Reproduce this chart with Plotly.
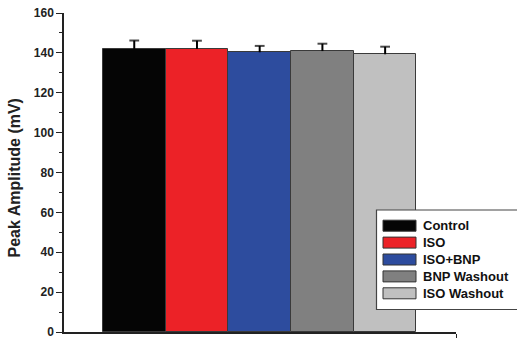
import plotly.graph_objects as go

categories = ["Control", "ISO", "ISO+BNP", "BNP Washout", "ISO Washout"]
values = [142.0, 142.0, 140.3, 140.9, 139.3]
errors = [4.2, 4.1, 3.2, 3.7, 3.8]
colors = ["#050505", "#ec2227", "#2d4c9e", "#808080", "#c0c0c0"]
y_ticks = [0, 20, 40, 60, 80, 100, 120, 140, 160]
y_title = "Peak Amplitude (mV)"

FONT = "Liberation Sans, Arial, sans-serif"
W, H = 517, 338
ML, MR, MT, MB = 64, 61, 13, 6
PW, PH = W - ML - MR, H - MT - MB


def px(x):
    return (x - ML) / PW


def py(y):
    return (H - MB - y) / PH


fig = go.Figure()
for name, v, e, c in zip(categories, values, errors, colors):
    fig.add_trace(go.Bar(
        x=[name], y=[v], width=1.0,
        marker=dict(color=c, line=dict(color="#3a3a3a", width=1)),
        showlegend=False, hoverinfo="x+y",
    ))
    # one-sided (upper) error bar
    fig.add_trace(go.Scatter(
        x=[name, name], y=[v, v + e], mode="lines+markers",
        line=dict(color="#000000", width=2),
        marker=dict(symbol="line-ew", size=[0, 7],
                    line=dict(color="#000000", width=2)),
        showlegend=False, hoverinfo="skip", cliponaxis=False,
    ))

# custom legend (box, swatches, labels)
shapes = [dict(type="rect", xref="paper", yref="paper",
               x0=px(376.5), x1=px(522), y0=py(309.5), y1=py(210),
               fillcolor="white", line=dict(color="#444444", width=1.2),
               layer="above")]
annotations = []
row_y0, row_dy = 225.7, 16.9
for i, (name, c) in enumerate(zip(categories, colors)):
    yc = row_y0 + i * row_dy
    shapes.append(dict(type="rect", xref="paper", yref="paper",
                       x0=px(383), x1=px(416), y0=py(yc + 5.5), y1=py(yc - 5.5),
                       fillcolor=c, line=dict(color="#333333", width=1),
                       layer="above"))
    annotations.append(dict(text=name, xref="paper", yref="paper",
                            x=px(420.5), y=py(yc), xanchor="left", yanchor="middle",
                            showarrow=False,
                            font=dict(family=FONT, size=13, color="#111111",
                                      weight="bold")))

# y-axis title
annotations.append(dict(text=y_title, xref="paper", yref="paper",
                        x=px(14.5), y=py(178), xanchor="center", yanchor="middle",
                        textangle=-90, showarrow=False,
                        font=dict(family=FONT, size=16, color="#222222",
                                  weight="bold")))

fig.update_layout(
    width=W, height=H,
    margin=dict(l=ML, r=MR, t=MT, b=MB),
    paper_bgcolor="white", plot_bgcolor="white",
    barmode="overlay", bargap=0,
    font=dict(family=FONT, color="#222222"),
    showlegend=False,
    shapes=shapes, annotations=annotations,
)

fig.update_xaxes(
    type="category", categoryorder="array", categoryarray=categories,
    range=[-1.12, 5.13], automargin=False,
    showline=True, linecolor="#222222", linewidth=1.5,
    showticklabels=False, showgrid=False, zeroline=False,
    ticks="outside", ticklen=4, tickcolor="#222222",
    tickmode="array", tickvals=[5.13],
)

fig.update_yaxes(
    range=[0, 160], automargin=False,
    tickmode="array", tickvals=y_ticks,
    ticks="outside", ticklen=6, tickwidth=1.2, tickcolor="#222222",
    ticklabeloverflow="allow",
    minor=dict(ticks="outside", ticklen=3, tickwidth=1, tickcolor="#222222",
               dtick=10, tick0=0),
    showline=True, linecolor="#222222", linewidth=1.5,
    showgrid=False, zeroline=False,
    tickfont=dict(family=FONT, size=12, color="#222222", weight="bold"),
)

fig.write_html("out.html")
